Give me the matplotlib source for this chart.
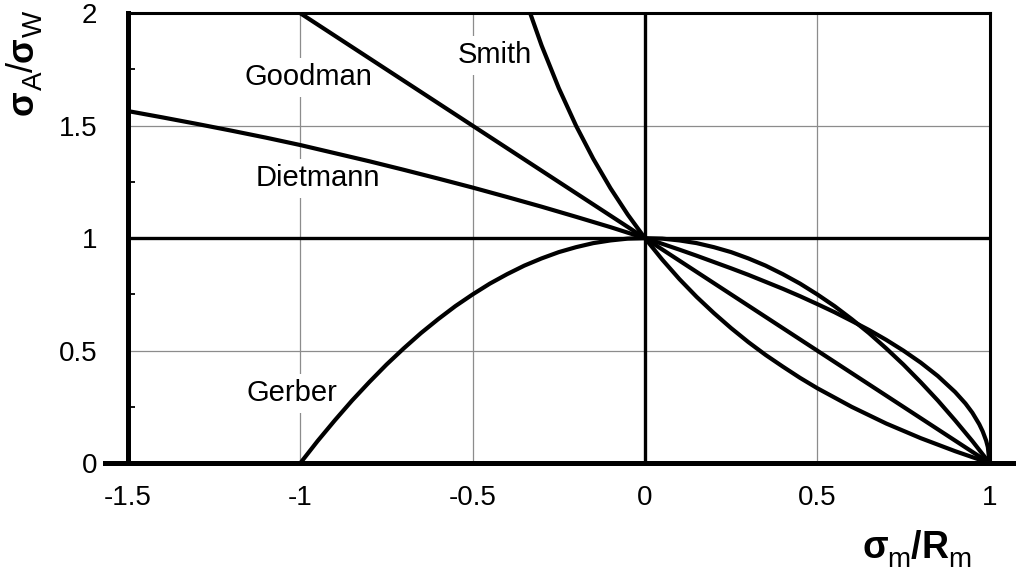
import matplotlib.pyplot as plt
from matplotlib.ticker import MultipleLocator

plt.rcParams['font.family'] = ['Liberation Sans', 'DejaVu Sans']

# Goodman
goodman_x = [-1.0, 1.0]
goodman_y = [2.0, 0.0]

# Smith
smith_x = [-0.333, -0.3, -0.25, -0.2, -0.15, -0.1, -0.05, 0.0, 0.05, 0.1, 0.15, 0.2,
           0.25, 0.3, 0.35, 0.4, 0.45, 0.5, 0.6, 0.7, 0.8, 0.9, 1.0]
smith_y = [2.0, 1.857, 1.667, 1.5, 1.353, 1.222, 1.105, 1.0, 0.905, 0.818, 0.739, 0.667,
           0.6, 0.538, 0.481, 0.429, 0.379, 0.333, 0.25, 0.176, 0.111, 0.053, 0.0]

# Gerber
gerber_x = [-1.0, -0.95, -0.9, -0.85, -0.8, -0.75, -0.7, -0.65, -0.6, -0.55, -0.5,
            -0.45, -0.4, -0.35, -0.3, -0.25, -0.2, -0.15, -0.1, -0.05, 0.0,
            0.05, 0.1, 0.15, 0.2, 0.25, 0.3, 0.35, 0.4, 0.45, 0.5,
            0.55, 0.6, 0.65, 0.7, 0.75, 0.8, 0.85, 0.9, 0.95, 1.0]
gerber_y = [0.0, 0.098, 0.19, 0.278, 0.36, 0.438, 0.51, 0.578, 0.64, 0.698, 0.75,
            0.798, 0.84, 0.878, 0.91, 0.938, 0.96, 0.978, 0.99, 0.998, 1.0,
            0.998, 0.99, 0.978, 0.96, 0.938, 0.91, 0.878, 0.84, 0.798, 0.75,
            0.698, 0.64, 0.578, 0.51, 0.438, 0.36, 0.278, 0.19, 0.098, 0.0]

# Dietmann
dietmann_x = [-1.5, -1.4, -1.3, -1.2, -1.1, -1.0, -0.9, -0.8, -0.7, -0.6, -0.5,
              -0.4, -0.3, -0.2, -0.1, 0.0, 0.05, 0.1, 0.15, 0.2, 0.25, 0.3, 0.35,
              0.4, 0.45, 0.5, 0.55, 0.6, 0.65, 0.7, 0.75, 0.8, 0.85, 0.9, 0.93,
              0.95, 0.97, 0.98, 0.99, 0.995, 1.0]
dietmann_y = [1.565, 1.537, 1.508, 1.478, 1.447, 1.414, 1.378, 1.342, 1.304, 1.265, 1.225,
              1.183, 1.14, 1.095, 1.049, 1.0, 0.975, 0.949, 0.922, 0.894, 0.866, 0.837, 0.806,
              0.775, 0.742, 0.707, 0.671, 0.632, 0.592, 0.548, 0.5, 0.447, 0.387, 0.316, 0.265,
              0.224, 0.173, 0.141, 0.1, 0.071, 0.0]

# curve names and where they are written
names = ['Goodman', 'Smith', 'Dietmann', 'Gerber']
name_x = [-0.977, -0.436, -0.948, -1.024]
name_y = [1.716, 1.813, 1.267, 0.311]

xticks = [-1.5, -1, -0.5, 0, 0.5, 1]
xtick_labels = ['-1.5', '-1', '-0.5', '0', '0.5', '1']
yticks = [0, 0.5, 1, 1.5, 2]
ytick_labels = ['0', '0.5', '1', '1.5', '2']

# axis titles: (text, size, weight, drop below baseline in px)
xlabel_parts = [('σ', 27, 'bold', 0), ('m', 20, 'normal', 9),
                ('/', 27, 'bold', 0), ('R', 27, 'bold', 0), ('m', 20, 'normal', 9)]
ylabel_parts = [('σ', 26, 'bold', 0), ('A', 20, 'normal', 9),
                ('/', 26, 'normal', 0), ('σ', 26, 'bold', 0), ('W', 20, 'normal', 9)]

W, H = 1016, 576


def write_parts(fig, x, y, parts, vertical=False):
    """Lay out text pieces one after another, starting at pixel (x, y)."""
    renderer = fig.canvas.get_renderer()
    for s, size, weight, drop in parts:
        if vertical:
            t = fig.text((x + drop) / W, y / H, s, rotation=90, rotation_mode='anchor',
                         ha='left', va='baseline', fontsize=size, fontweight=weight)
            y = t.get_window_extent(renderer).y1
        else:
            t = fig.text(x / W, (y - drop) / H, s, ha='left', va='baseline',
                         fontsize=size, fontweight=weight)
            x = t.get_window_extent(renderer).x1


fig = plt.figure(figsize=(W / 100, H / 100), dpi=100)
ax = fig.add_axes([0.126, 0.196, 0.848, 0.781])
ax.set_xlim(-1.5, 1)
ax.set_ylim(0, 2)

ax.set_xticks(xticks)
ax.set_xticklabels(xtick_labels, fontsize=20)
ax.set_yticks(yticks)
ax.set_yticklabels(ytick_labels, fontsize=20)
ax.tick_params(axis='both', which='major', length=0)
ax.tick_params(axis='x', pad=16)
ax.tick_params(axis='y', pad=22)
ax.yaxis.set_minor_locator(MultipleLocator(0.25))
ax.tick_params(axis='y', which='minor', direction='in', length=5, width=1.3)
ax.tick_params(axis='x', which='minor', length=0)

ax.grid(True, color='#8c8c8c', linewidth=0.9)
ax.set_axisbelow(True)

ax.spines['left'].set_linewidth(3.6)
ax.spines['bottom'].set_visible(False)
ax.spines['top'].set_linewidth(2.2)
ax.spines['right'].set_linewidth(2.2)

ax.axhline(0, xmin=-0.027, xmax=1.03, color='black', lw=3.6, clip_on=False, zorder=5)
ax.axhline(1, color='black', lw=2.4, zorder=2)
ax.axvline(0, color='black', lw=2.4, zorder=2)

for name, tx, ty in zip(names, name_x, name_y):
    ax.text(tx, ty, name, fontsize=21, ha='center', va='center', zorder=3,
            bbox=dict(facecolor='white', edgecolor='none', pad=4))

line_kw = dict(color='black', lw=3.0, zorder=4, solid_capstyle='butt')
ax.plot(goodman_x, goodman_y, **line_kw)
ax.plot(smith_x, smith_y, **line_kw)
ax.plot(gerber_x, gerber_y, **line_kw)
ax.plot(dietmann_x, dietmann_y, **line_kw)

write_parts(fig, 862, 18, xlabel_parts)
write_parts(fig, 33, 461, ylabel_parts, vertical=True)

fig.savefig('out.png', dpi=100)
